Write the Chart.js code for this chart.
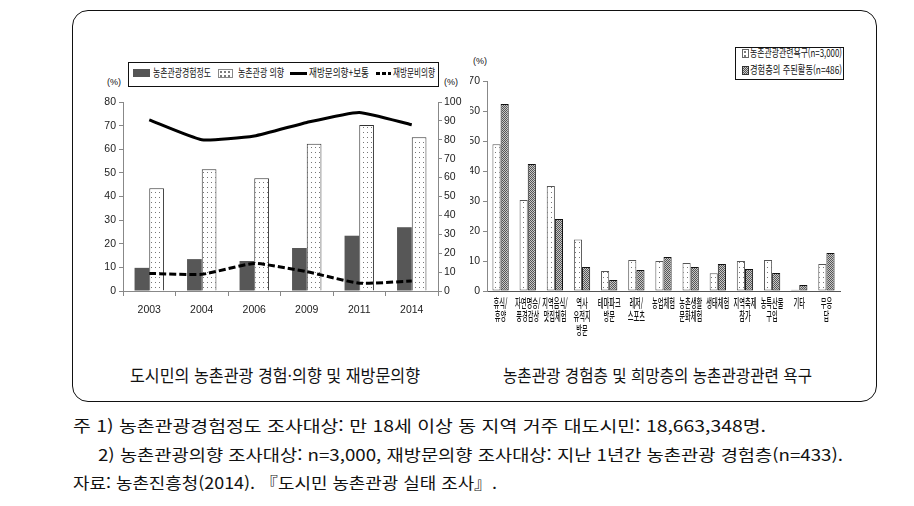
<!DOCTYPE html>
<html lang="ko">
<head>
<meta charset="utf-8">
<script src="https://cdn.jsdelivr.net/npm/chart.js@4.4.0/dist/chart.umd.min.js"></script>
<style>
  body { margin: 0; width: 914px; height: 506px; background: #fff; position: relative; overflow: hidden;
         font-family: "Noto Sans CJK KR", sans-serif; color: #111; }
  .t { position: absolute; white-space: nowrap; line-height: 1; transform-origin: 0 50%; }
  #frame { position: absolute; left: 72px; top: 10px; width: 803px; height: 390px;
           border: 1.5px solid #111; border-radius: 16px; }
  canvas { position: absolute; }
  .box { position: absolute; border: 1px solid #111; }
  .dots { background-color: #fff;
          background-image: radial-gradient(circle, #777 0.7px, transparent 0.9px);
          background-size: 4px 4px; }
  .checks { background-color: #999;
            background-image: repeating-conic-gradient(#555 0 25%, #c8c8c8 0 50%);
            background-size: 2px 2px; }
</style>
</head>
<body>
<div id="frame"></div>

<!-- left chart legend -->
<div class="box" style="left:128px;top:62px;width:309px;height:23px;"></div>
<div class="box" style="left:133px;top:69px;width:17px;height:8px;background:#555;border:none;"></div>
<div class="t" data-w="58" style="left:153px;top:67px;font-size:11px;">농촌관광경험정도</div>
<div class="box dots" style="left:218px;top:69px;width:13px;height:7px;border-color:#888;"></div>
<div class="t" data-w="46" style="left:238px;top:67px;font-size:11px;">농촌관광 의향</div>
<div class="box" style="left:290px;top:72px;width:17px;height:3px;background:#000;border:none;"></div>
<div class="t" data-w="60" style="left:309px;top:67px;font-size:11px;">재방문의향+보통</div>
<div class="box" style="left:376px;top:72px;width:15px;height:3px;border:none;
     background:repeating-linear-gradient(90deg,#000 0 4px,transparent 4px 6px);"></div>
<div class="t" data-w="42" style="left:393px;top:67px;font-size:11px;">재방문비의향</div>
<div class="t" style="left:107px;top:78px;font-size:9px;font-family:'Liberation Sans Narrow','Liberation Sans',sans-serif;">(%)</div>
<div class="t" style="left:444px;top:78px;font-size:9px;font-family:'Liberation Sans Narrow','Liberation Sans',sans-serif;">(%)</div>

<!-- right chart legend -->
<div class="box" style="left:735px;top:47px;width:107px;height:31px;"></div>
<div class="box dots" style="left:742px;top:49px;width:5px;height:7px;border-color:#666;"></div>
<div class="t" data-w="92" style="left:750px;top:47px;font-size:11px;">농촌관광관련욕구(n=3,000)</div>
<div class="box checks" style="left:742px;top:66px;width:5px;height:7px;border-color:#333;"></div>
<div class="t" data-w="92" style="left:750px;top:64px;font-size:11px;">경험층의 주된활동(n=486)</div>
<div class="t" style="left:473px;top:57px;font-size:9px;font-family:'Liberation Sans Narrow','Liberation Sans',sans-serif;">(%)</div>

<canvas id="trend-chart" width="380" height="240" style="left:90px;top:90px;"></canvas>
<canvas id="need-chart" width="380" height="300" style="left:470px;top:40px;"></canvas>

<div class="t" data-w="290" style="left:130px;top:366px;font-size:17px;">도시민의 농촌관광 경험·의향 및 재방문의향</div>
<div class="t" data-w="309" style="left:503px;top:366px;font-size:17px;">농촌관광 경험층 및 희망층의 농촌관광관련 욕구</div>

<div class="t" data-w="693" style="left:73px;top:417px;font-size:16px;">주 1) 농촌관광경험정도 조사대상: 만 18세 이상 동 지역 거주 대도시민: 18,663,348명.</div>
<div class="t" data-w="745" style="left:98px;top:446px;font-size:16px;">2) 농촌관광의향 조사대상: n=3,000, 재방문의향 조사대상: 지난 1년간 농촌관광 경험층(n=433).</div>
<div class="t" data-w="424" style="left:73px;top:474px;font-size:16px;">자료: 농촌진흥청(2014). 『도시민 농촌관광 실태 조사』.</div>

<script>
// left chart data
const years = ["2003", "2004", "2006", "2009", "2011", "2014"];
const experienceRate = [9.8, 13.5, 12.7, 18.2, 23.4, 27.0];
const intentionRate = [43.5, 51.5, 47.7, 62.3, 70.3, 65.1];
const revisitYes = [90.5, 80.0, 82.0, 89.2, 94.5, 88.0];
const revisitNo = [9.3, 8.8, 14.6, 10.2, 4.1, 5.3];
const leftTicks = [0, 10, 20, 30, 40, 50, 60, 70, 80];
const rightTicks = [0, 10, 20, 30, 40, 50, 60, 70, 80, 90, 100];

// right chart data
const needLabels = [
  ["휴식/", "휴양"],
  ["자연명승/", "풍경감상"],
  ["지역음식/", "맛집체험"],
  ["역사", "유적지", "방문"],
  ["테마파크", "방문"],
  ["레저/", "스포츠"],
  ["농업체험"],
  ["농촌생활", "문화체험"],
  ["생태체험"],
  ["지역축제", "참가"],
  ["농특산물", "구입"],
  ["기타"],
  ["무응", "답"],
];
const tourismNeeds = [48.9, 30.3, 35.0, 17.2, 6.7, 10.3, 10.0, 9.3, 5.9, 10.0, 10.3, 0.4, 9.0];
const mainActivities = [62.3, 42.3, 24.0, 8.0, 3.7, 7.0, 11.3, 8.0, 9.0, 7.3, 6.0, 2.0, 12.7];
const needTicks = [0, 10, 20, 30, 40, 50, 60, 70];

const NARROW = "'Liberation Sans Narrow', 'Liberation Sans', sans-serif";

function makeDots() {
  const c = document.createElement("canvas");
  c.width = 4;
  c.height = 5;
  const ctx = c.getContext("2d");
  ctx.fillStyle = "#fff";
  ctx.fillRect(0, 0, 4, 5);
  ctx.fillStyle = "#777";
  ctx.fillRect(1, 2, 1, 1);
  return ctx.createPattern(c, "repeat");
}

function makeChecks() {
  const c = document.createElement("canvas");
  c.width = 2;
  c.height = 2;
  const ctx = c.getContext("2d");
  ctx.fillStyle = "#c8c8c8";
  ctx.fillRect(0, 0, 2, 2);
  ctx.fillStyle = "#555";
  ctx.fillRect(0, 0, 1, 1);
  ctx.fillRect(1, 1, 1, 1);
  return ctx.createPattern(c, "repeat");
}

function fixedWidth(w) {
  return (scale) => { scale.width = w; };
}

function fixedHeight(h) {
  return (scale) => { scale.height = h; };
}

const tickFont = { family: NARROW, size: 10.5 };
const axisGrid = { drawOnChartArea: false, color: "#888", tickLength: 4 };
const axisBorder = { color: "#888" };

new Chart(document.getElementById("trend-chart").getContext("2d"), {
  data: {
    labels: years,
    datasets: [
      {
        type: "line",
        data: revisitYes,
        yAxisID: "y1",
        borderColor: "#000",
        borderWidth: 3,
        pointRadius: 0,
        tension: 0.15,
        order: 0,
      },
      {
        type: "line",
        data: revisitNo,
        yAxisID: "y1",
        borderColor: "#000",
        borderWidth: 3,
        borderDash: [7, 3],
        pointRadius: 0,
        tension: 0.15,
        order: 0,
      },
      {
        type: "bar",
        data: experienceRate,
        yAxisID: "y",
        backgroundColor: "#575757",
        borderWidth: 0,
        categoryPercentage: 0.56,
        barPercentage: 1.0,
        order: 1,
      },
      {
        type: "bar",
        data: intentionRate,
        yAxisID: "y",
        backgroundColor: makeDots(),
        borderColor: "#333",
        borderWidth: 1,
        borderSkipped: "bottom",
        categoryPercentage: 0.56,
        barPercentage: 1.0,
        order: 1,
      },
    ],
  },
  options: {
    responsive: false,
    animation: false,
    layout: { padding: { top: 12, left: 0, right: 0, bottom: 0 } },
    plugins: { legend: { display: false }, tooltip: { enabled: false } },
    scales: {
      x: {
        afterFit: fixedHeight(39),
        grid: { drawOnChartArea: false, color: "#888", tickLength: 5, offset: true },
        border: axisBorder,
        ticks: { font: tickFont, color: "#222", padding: 8, maxRotation: 0 },
      },
      y: {
        position: "left",
        min: 0,
        max: 80,
        afterFit: fixedWidth(33),
        afterBuildTicks: (scale) => { scale.ticks = leftTicks.map((v) => ({ value: v })); },
        grid: axisGrid,
        border: axisBorder,
        ticks: { font: tickFont, color: "#222", padding: 3 },
      },
      y1: {
        position: "right",
        min: 0,
        max: 100,
        afterFit: fixedWidth(32),
        afterBuildTicks: (scale) => { scale.ticks = rightTicks.map((v) => ({ value: v })); },
        grid: axisGrid,
        border: axisBorder,
        ticks: { font: tickFont, color: "#222", padding: 2 },
      },
    },
  },
});

// korean category labels are drawn squeezed, like the original condensed type
const condensedLabels = {
  id: "condensedLabels",
  afterDraw(chart) {
    const xs = chart.scales.x;
    const ctx = chart.ctx;
    ctx.save();
    ctx.font = '500 12px "Noto Sans CJK KR"';
    ctx.fillStyle = "#111";
    ctx.textAlign = "center";
    ctx.textBaseline = "middle";
    needLabels.forEach((lines, i) => {
      const cx = xs.getPixelForValue(i);
      lines.forEach((line, j) => {
        ctx.save();
        ctx.translate(cx, xs.top + 12 + j * 13.5);
        ctx.scale(0.52, 1);
        ctx.fillText(line, 0, 0);
        ctx.restore();
      });
    });
    ctx.restore();
  },
};

new Chart(document.getElementById("need-chart").getContext("2d"), {
  type: "bar",
  data: {
    labels: needLabels.map((l) => l.join("")),
    datasets: [
      {
        data: tourismNeeds,
        backgroundColor: makeDots(),
        borderColor: "#555",
        borderWidth: 1,
        borderSkipped: false,
        categoryPercentage: 0.6,
        barPercentage: 1.0,
      },
      {
        data: mainActivities,
        backgroundColor: makeChecks(),
        borderColor: "#111",
        borderWidth: 1,
        borderSkipped: false,
        categoryPercentage: 0.6,
        barPercentage: 1.0,
      },
    ],
  },
  options: {
    responsive: false,
    animation: false,
    layout: { padding: { top: 41, left: 0, right: 10, bottom: 0 } },
    plugins: { legend: { display: false }, tooltip: { enabled: false } },
    scales: {
      x: {
        afterFit: fixedHeight(49),
        grid: { display: false },
        border: { color: "#555" },
        ticks: { display: false },
      },
      y: {
        min: 0,
        max: 70,
        afterFit: fixedWidth(17),
        afterBuildTicks: (scale) => { scale.ticks = needTicks.map((v) => ({ value: v })); },
        grid: axisGrid,
        border: axisBorder,
        ticks: { font: tickFont, color: "#222", padding: 3 },
      },
    },
  },
  plugins: [condensedLabels],
});

// squeeze html text to the widths measured on the reference
document.querySelectorAll(".t[data-w]").forEach((el) => {
  const w = el.getBoundingClientRect().width;
  el.style.transform = `scaleX(${Number(el.dataset.w) / w})`;
});
</script>
</body>
</html>
